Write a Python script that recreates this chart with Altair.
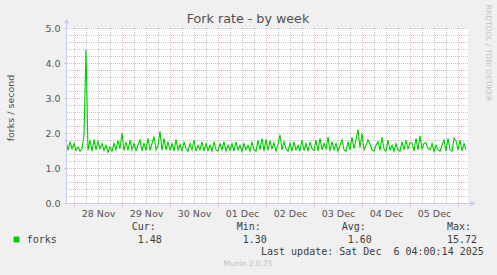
import altair as alt
import pandas as pd

# ---------------- data ----------------
start_time = "2025-11-27T20:00:00Z"   # first sample, hourly samples afterwards
forks = [
    # 27 Nov 20:00-23:00
    1.80, 1.50, 1.75, 1.55,
    # 28 Nov
    1.70, 1.50, 1.60, 1.48, 1.55, 1.95, 4.37, 1.50, 1.80, 1.48, 1.82, 1.52,
    1.75, 1.55, 1.70, 1.50, 1.65, 1.45, 1.60, 1.48, 1.70, 1.52, 1.78, 1.55,
    # 29 Nov
    2.00, 1.50, 1.75, 1.50, 1.80, 1.52, 1.70, 1.50, 1.65, 1.80, 1.48, 1.72,
    1.50, 1.85, 1.50, 1.70, 1.90, 1.52, 1.65, 2.05, 1.50, 1.85, 1.52, 1.75,
    # 30 Nov
    1.50, 1.70, 1.48, 1.82, 1.52, 1.68, 1.48, 1.75, 1.55, 1.48, 1.70, 1.52,
    1.80, 1.48, 1.65, 1.52, 1.75, 1.48, 1.70, 1.50, 1.65, 1.48, 1.75, 1.52,
    # 01 Dec
    1.48, 1.70, 1.52, 1.75, 1.48, 1.65, 1.50, 1.70, 1.48, 1.75, 1.52, 1.65,
    1.48, 1.70, 1.52, 1.65, 1.48, 1.75, 1.52, 1.48, 1.80, 1.52, 1.85, 1.48,
    # 02 Dec
    1.82, 1.50, 1.78, 1.55, 1.72, 1.48, 1.68, 1.95, 1.52, 1.75, 1.55, 1.48,
    1.70, 1.48, 1.75, 1.52, 1.65, 1.48, 1.80, 1.50, 1.70, 1.48, 1.75, 1.55,
    # 03 Dec
    1.50, 1.80, 1.48, 1.85, 1.52, 1.70, 1.55, 1.88, 1.48, 1.75, 1.52, 1.70,
    1.48, 1.65, 1.80, 1.52, 1.48, 1.75, 1.52, 1.88, 1.55, 1.80, 2.10, 1.58,
    # 04 Dec
    1.98, 1.52, 1.65, 1.80, 1.68, 1.52, 1.48, 1.65, 1.75, 1.50, 1.88, 1.55,
    1.48, 1.80, 1.52, 1.65, 1.48, 1.70, 1.52, 1.48, 1.75, 1.52, 1.80, 1.55,
    # 05 Dec
    1.72, 1.72, 1.48, 1.85, 1.52, 1.92, 1.55, 1.70, 1.72, 1.55, 1.52, 1.70,
    1.48, 1.65, 1.52, 1.48, 1.65, 1.80, 1.48, 1.85, 1.52, 1.48, 1.85, 1.78,
    # 06 Dec 00:00-04:00
    1.52, 1.80, 1.48, 1.70, 1.52,
]
x_domain = ["2025-11-27T20:00:00Z", "2025-12-06T05:00:00Z"]
day_ticks = ["2025-11-28", "2025-11-29", "2025-11-30", "2025-12-01",
             "2025-12-02", "2025-12-03", "2025-12-04", "2025-12-05", "2025-12-06"]
y_major = [0.0, 1.0, 2.0, 3.0, 4.0, 5.0]
y_minor_step = 0.2

title_text = "Fork rate - by week"
y_title = "forks / second"
legend_name = "forks"
stat_heads = ["Cur:", "Min:", "Avg:", "Max:"]
stat_vals = ["1.48", "1.30", "1.60", "15.72"]
last_update = "Last update: Sat Dec \u00a06 04:00:14 2025"
munin_text = "Munin 2.0.75"
rrd_text = "RRDTOOL / TOBI OETIKER"

# ---------------- build tables ----------------
def ms(s):
    t = pd.Timestamp(s)
    if t.tzinfo is None:
        t = t.tz_localize("UTC")
    return int(t.value // 10**6)

t0 = pd.Timestamp(start_time)
line_df = pd.DataFrame({
    "t": [ms(t0 + pd.Timedelta(hours=i)) for i in range(len(forks))],
    "v": forks,
})
dom = [ms(d) for d in x_domain]
major_t = [ms(d) for d in day_ticks]
minor_t = []
for d in major_t:
    for h in (-6, 6, 12, 18):
        v = d + h * 3600 * 1000
        if dom[0] <= v <= dom[1] and v not in minor_t:
            minor_t.append(v)
y_minor = [round(i * y_minor_step, 1) for i in range(1, 25)
           if abs(i * y_minor_step - round(i * y_minor_step)) > 1e-6]
dec6 = major_t[-1]

W, H = 402, 175
GRID_MINOR = "#C8C8C8"
GRID_MAJOR = "#EEB6B6"
AXIS_COL = "#C8CCF4"
LABEL_COL = "#555555"
TEXT_COL = "#3C3C3C"

x_scale = alt.Scale(type="utc", domain=dom)
y_scale = alt.Scale(domain=[0, 5], nice=False)
x_axis = alt.Axis(values=major_t, labelExpr=f"datum.value >= {dec6} ? '' : utcFormat(datum.value, '%d %b')",
                  labelOffset=24, grid=False, domain=False, tickColor=GRID_MAJOR, tickSize=3,
                  labelFont="DejaVu Sans", labelFontSize=9.5, labelColor=LABEL_COL,
                  labelPadding=2, title=None, labelFlush=False, labelOverlap=False)
y_axis = alt.Axis(values=y_major, format=".1f", grid=False, domain=False, tickColor=GRID_MAJOR,
                  tickSize=2, labelFont="DejaVu Sans", labelFontSize=9.5, labelColor=LABEL_COL,
                  labelPadding=4, title=None)

X = lambda f: alt.X(f, type="temporal", scale=x_scale, axis=x_axis)
Y = lambda f: alt.Y(f, type="quantitative", scale=y_scale, axis=y_axis)

vminor = alt.Chart(pd.DataFrame({"t": minor_t})).mark_rule(
    color=GRID_MINOR, strokeWidth=1, strokeDash=[1, 1], xOffset=0.5).encode(x=X("t"))
hminor = alt.Chart(pd.DataFrame({"v": y_minor})).mark_rule(
    color=GRID_MINOR, strokeWidth=1, strokeDash=[1, 1], yOffset=0.5).encode(y=Y("v"))
vmajor = alt.Chart(pd.DataFrame({"t": major_t})).mark_rule(
    color=GRID_MAJOR, strokeWidth=1, strokeDash=[1, 1], xOffset=0.5).encode(x=X("t"))
hmajor = alt.Chart(pd.DataFrame({"v": y_major[1:]})).mark_rule(
    color=GRID_MAJOR, strokeWidth=1, strokeDash=[1, 1], yOffset=0.5).encode(y=Y("v"))

line = alt.Chart(line_df).mark_line(color="#00CC00", strokeWidth=1.1).encode(x=X("t"), y=Y("v"))

one = lambda: alt.Data(values=[{"a": 1}])
yaxis_line = alt.Chart(one()).mark_rule(color=AXIS_COL, strokeWidth=1).encode(
    x=alt.value(0.5), y=alt.value(-6), y2=alt.value(H))
xaxis_line = alt.Chart(one()).mark_rule(color=AXIS_COL, strokeWidth=1).encode(
    x=alt.value(0), x2=alt.value(W + 4), y=alt.value(H + 0.5))
arrow_up = alt.Chart(one()).mark_point(shape="triangle-up", filled=True, color=AXIS_COL,
                                        size=30, opacity=1).encode(x=alt.value(0.5), y=alt.value(-7))
arrow_right = alt.Chart(one()).mark_point(shape="triangle-right", filled=True, color=AXIS_COL,
                                           size=30, opacity=1).encode(x=alt.value(W + 5), y=alt.value(H + 0.5))


def txt(s, x, y, size=10, font="DejaVu Sans Mono", color=TEXT_COL, align="left", angle=0):
    return alt.Chart(alt.Data(values=[{"s": s}])).mark_text(
        align=align, baseline="middle", font=font, fontSize=size, color=color, angle=angle
    ).encode(x=alt.value(x), y=alt.value(y), text="s:N")


texts = [
    txt(title_text, 182, -9.5, size=12.7, font="DejaVu Sans", color="#505050", align="center"),
    txt(y_title, -55.5, 80, size=9.5, font="DejaVu Sans", color="#505050", align="center", angle=270),
    txt(rrd_text, 421.7, 25, size=7.5, font="DejaVu Sans", color="#C4C4C4", align="center", angle=90),
    txt(legend_name, -39.3, 211.7),
    txt(last_update, 195, 223.7),
    txt(munin_text, 182, 236, size=7.5, font="DejaVu Sans", color="#C0C0C0", align="center"),
]
for hx, head in zip([65.7, 170.7, 275.7, 381], stat_heads):
    texts.append(txt(head, hx, 199.3))
for vx, val in zip([71.7, 176.7, 281.7, 381], stat_vals):
    texts.append(txt(val, vx, 211.7))

legend_sq = alt.Chart(one()).mark_square(color="#00CC00", size=34, opacity=1).encode(
    x=alt.value(-49.5), y=alt.value(211.5))

chart = alt.layer(
    vminor, hminor, vmajor, hmajor, line, yaxis_line, xaxis_line, arrow_up, arrow_right,
    legend_sq, *texts
).properties(
    width=W, height=H,
    autosize=alt.AutoSizeParams(type="none"),
    padding={"left": 66, "top": 28, "right": 497 - 66 - W, "bottom": 275 - 28 - H},
).configure(
    background="#F0F0F0",
).configure_view(
    fill="white", stroke=None,
)

chart.save("out.html", embed_options={"renderer": "svg", "actions": False})
